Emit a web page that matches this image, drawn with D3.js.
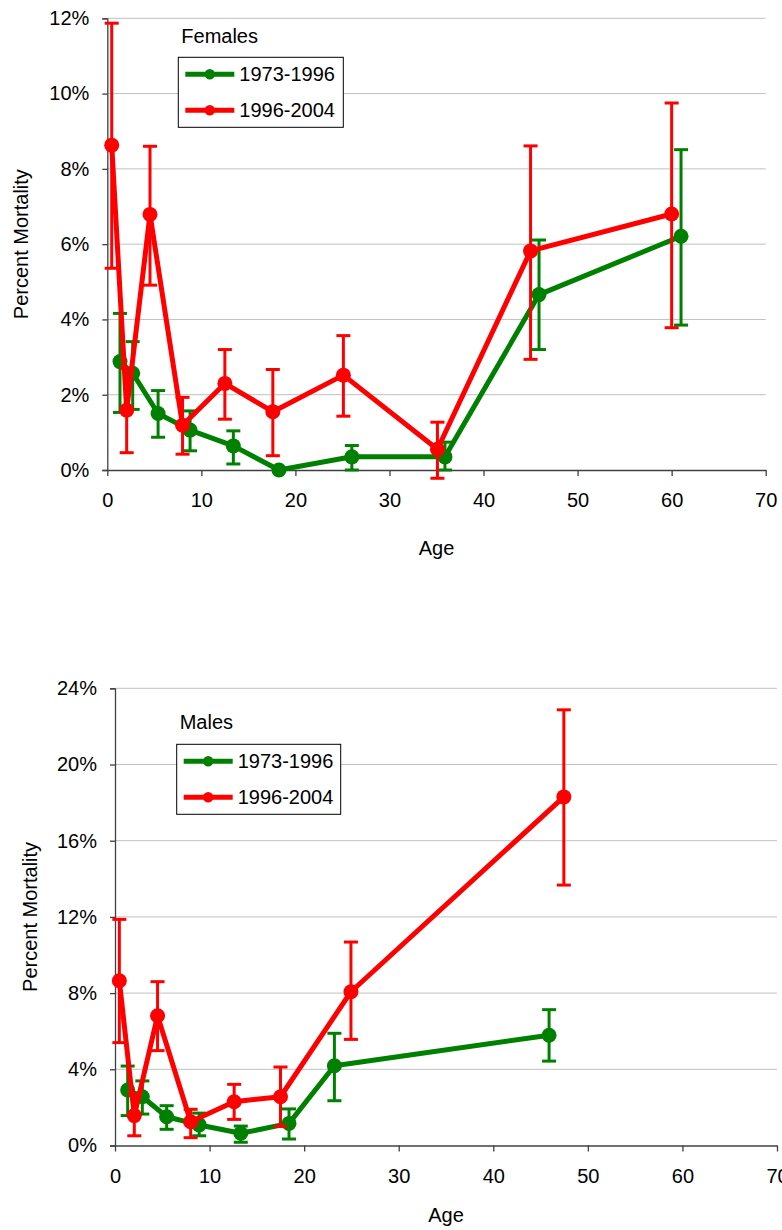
<!DOCTYPE html>
<html>
<head>
<meta charset="utf-8">
<script src="https://cdn.jsdelivr.net/npm/d3@7/dist/d3.min.js"></script>
<style>
  html, body { margin: 0; padding: 0; background: #fff; }
  svg { display: block; }
  text { font-family: "Liberation Sans", Arial, Helvetica, sans-serif; fill: #000; }
</style>
</head>
<body>
<svg id="chart" width="782" height="1230"></svg>
<script>
// ---- Data: percent mortality by age, two study periods ----
const seriesNames = ["1973-1996", "1996-2004"];
const seriesColors = ["#008000", "#ff0000"];

// Females
const femAge73 = [1.35, 2.7, 5.4, 8.8, 13.4, 18.25, 26.0, 35.9, 45.9, 61.0];
const femPct73 = [2.88, 2.57, 1.50, 1.06, 0.64, 0.00, 0.35, 0.35, 4.66, 6.21];
const femLo73  = [1.53, 1.61, 0.87, 0.51, 0.16, 0.00, 0.00, 0.00, 3.20, 3.85];
const femHi73  = [4.16, 3.41, 2.11, 1.57, 1.04, 0.00, 0.65, 0.74, 6.11, 8.51];

const femAge96 = [0.47, 2.06, 4.54, 8.0, 12.5, 17.6, 25.1, 35.1, 45.0, 60.0];
const femPct96 = [8.63, 1.59, 6.79, 1.19, 2.30, 1.55, 2.52, 0.55, 5.82, 6.80];
const femLo96  = [5.36, 0.46, 4.91, 0.42, 1.35, 0.38, 1.43, -0.22, 2.94, 3.78];
const femHi96  = [11.87, 2.70, 8.60, 1.93, 3.20, 2.67, 3.57, 1.27, 8.61, 9.75];

// Males
const maleAge73 = [1.34, 2.89, 5.46, 8.9, 13.3, 18.4, 23.2, 45.9];
const malePct73 = [2.91, 2.56, 1.51, 1.08, 0.64, 1.16, 4.19, 5.79];
const maleLo73  = [1.57, 1.65, 0.85, 0.51, 0.17, 0.34, 2.35, 4.43];
const maleHi73  = [4.17, 3.39, 2.09, 1.70, 1.02, 1.92, 5.89, 7.13];

const maleAge96 = [0.46, 2.04, 4.5, 8.0, 12.6, 17.5, 24.95, 47.46];
const malePct96 = [8.65, 1.57, 6.81, 1.25, 2.30, 2.56, 8.07, 18.30];
const maleLo96  = [5.40, 0.51, 4.98, 0.41, 1.37, 1.00, 5.57, 13.67];
const maleHi96  = [11.87, 2.70, 8.60, 1.90, 3.21, 4.12, 10.68, 22.87];

// Axis ticks
const ageTicks = [0, 10, 20, 30, 40, 50, 60, 70];
const femPctTicks = [0, 2, 4, 6, 8, 10, 12];
const malePctTicks = [0, 4, 8, 12, 16, 20, 24];

function zip(age, pct, lo, hi) {
  return age.map((a, i) => ({ age: a, pct: pct[i], lo: lo[i], hi: hi[i] }));
}

const panels = [
  {
    title: "Females",
    box: { left: 107.3, right: 765.7, top: 18.3, bottom: 470 },
    yTicks: femPctTicks,
    series: [zip(femAge73, femPct73, femLo73, femHi73), zip(femAge96, femPct96, femLo96, femHi96)],
    legend: { x: 178.3, y: 57.3, w: 165, h: 70, titleY: 43.3 },
    yLabelX: 28,
    ageLabelY: 548
  },
  {
    title: "Males",
    box: { left: 115, right: 777, top: 688.3, bottom: 1145.5 },
    yTicks: malePctTicks,
    series: [zip(maleAge73, malePct73, maleLo73, maleHi73), zip(maleAge96, malePct96, maleLo96, maleHi96)],
    legend: { x: 176.7, y: 744.3, w: 164, h: 70, titleY: 729.3 },
    yLabelX: 37,
    ageLabelY: 1215
  }
];

const svg = d3.select("#chart");
const FONT = 20;

panels.forEach(p => {
  const b = p.box;
  const x = d3.scaleLinear().domain([0, 70]).range([b.left, b.right]);
  const yMax = p.yTicks[p.yTicks.length - 1];
  const y = d3.scaleLinear().domain([0, yMax]).range([b.bottom, b.top]);
  const g = svg.append("g");

  // horizontal gridlines
  g.append("g").selectAll("line")
    .data(p.yTicks.filter(t => t > 0))
    .join("line")
    .attr("x1", b.left).attr("x2", b.right)
    .attr("y1", d => y(d)).attr("y2", d => y(d))
    .attr("stroke", "#c0c0c0").attr("stroke-width", 1);

  // y axis
  const yAxis = g.append("g")
    .attr("transform", `translate(${b.left},0)`)
    .call(d3.axisLeft(y).tickValues(p.yTicks).tickFormat(d => d + "%").tickSize(5).tickPadding(13));
  yAxis.select(".domain").attr("stroke", "#404040").attr("stroke-width", 1.3);
  yAxis.selectAll(".tick line").attr("stroke", "#404040").attr("stroke-width", 1.3);
  yAxis.selectAll(".tick text").attr("font-size", FONT).attr("fill", "#000")
    .style("font-family", "'Liberation Sans', Arial, sans-serif");

  // x axis
  const xAxis = g.append("g")
    .attr("transform", `translate(0,${b.bottom})`)
    .call(d3.axisBottom(x).tickValues(ageTicks).tickFormat(d3.format("d")).tickSize(6).tickSizeOuter(0).tickPadding(17));
  xAxis.select(".domain").attr("stroke", "#404040").attr("stroke-width", 1.3);
  xAxis.selectAll(".tick line").attr("stroke", "#404040").attr("stroke-width", 1.3);
  xAxis.selectAll(".tick text").attr("font-size", FONT).attr("fill", "#000")
    .style("font-family", "'Liberation Sans', Arial, sans-serif");

  // axis titles
  g.append("text")
    .attr("x", (b.left + b.right) / 2).attr("y", p.ageLabelY)
    .attr("dy", "0.35em").attr("text-anchor", "middle")
    .attr("font-size", FONT).text("Age");
  g.append("text")
    .attr("transform", `translate(${p.yLabelX},${(b.top + b.bottom) / 2}) rotate(-90)`)
    .attr("text-anchor", "middle")
    .attr("font-size", FONT).text("Percent Mortality");

  // series: line, error bars, markers
  const line = d3.line().x(d => x(d.age)).y(d => y(d.pct));
  p.series.forEach((data, si) => {
    const col = seriesColors[si];
    const sg = g.append("g");
    sg.append("path").datum(data)
      .attr("d", line).attr("fill", "none")
      .attr("stroke", col).attr("stroke-width", 5).attr("stroke-linejoin", "round");
    const eb = sg.append("g").selectAll("g").data(data).join("g")
      .attr("stroke", col).attr("stroke-width", 3);
    eb.append("line")
      .attr("x1", d => x(d.age)).attr("x2", d => x(d.age))
      .attr("y1", d => y(d.lo)).attr("y2", d => y(d.hi));
    eb.append("line")
      .attr("x1", d => x(d.age) - 7).attr("x2", d => x(d.age) + 7)
      .attr("y1", d => y(d.hi)).attr("y2", d => y(d.hi));
    eb.append("line")
      .attr("x1", d => x(d.age) - 7).attr("x2", d => x(d.age) + 7)
      .attr("y1", d => y(d.lo)).attr("y2", d => y(d.lo));
    sg.append("g").selectAll("circle").data(data).join("circle")
      .attr("cx", d => x(d.age)).attr("cy", d => y(d.pct))
      .attr("r", 7.5).attr("fill", col);
  });

  // legend
  const L = p.legend;
  g.append("text")
    .attr("x", L.x + 3).attr("y", L.titleY)
    .attr("font-size", FONT).text(p.title);
  const lg = g.append("g");
  lg.append("rect")
    .attr("x", L.x).attr("y", L.y).attr("width", L.w).attr("height", L.h)
    .attr("fill", "#fff").attr("stroke", "#000").attr("stroke-width", 1);
  seriesNames.forEach((name, i) => {
    const cy = L.y + 17 + i * 36;
    lg.append("line")
      .attr("x1", L.x + 7).attr("x2", L.x + 56)
      .attr("y1", cy).attr("y2", cy)
      .attr("stroke", seriesColors[i]).attr("stroke-width", 5);
    lg.append("circle")
      .attr("cx", L.x + 31.5).attr("cy", cy).attr("r", 5.2)
      .attr("fill", seriesColors[i]);
    lg.append("text")
      .attr("x", L.x + 61).attr("y", cy).attr("dy", "0.35em")
      .attr("font-size", FONT).text(name);
  });
});
</script>
</body>
</html>
